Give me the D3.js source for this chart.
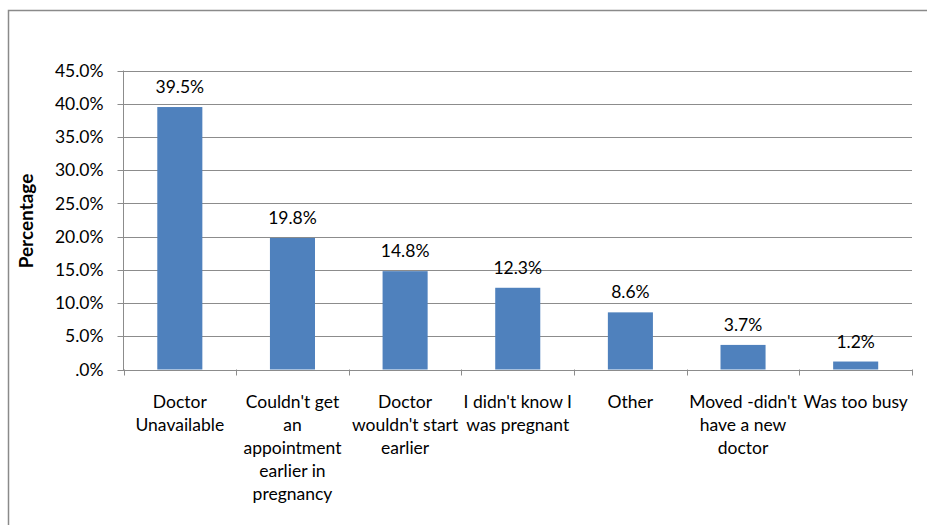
<!DOCTYPE html>
<html><head><meta charset="utf-8">
<script src="https://cdn.jsdelivr.net/npm/d3@7/dist/d3.min.js"></script>
<style>body{margin:0;background:#fff}svg{display:block}text{font-family:Lato,"Open Sans",sans-serif}</style>
</head><body><svg id="c" width="927" height="525"></svg>
<script>
const categories = ["Doctor Unavailable","Couldn't get an appointment earlier in pregnancy","Doctor wouldn't start earlier","I didn't know I was pregnant","Other","Moved -didn't have a new doctor","Was too busy"];
const categoryLines = [["Doctor","Unavailable"],["Couldn't get","an","appointment","earlier in","pregnancy"],["Doctor","wouldn't start","earlier"],["I didn't know I","was pregnant"],["Other"],["Moved -didn't","have a new","doctor"],["Was too busy"]];
const values = [39.5,19.8,14.8,12.3,8.6,3.7,1.2];
const yTicks = [0,5,10,15,20,25,30,35,40,45];
const yLabel = "Percentage";

const svg = d3.select("#c");
const L=123.5, R=912, T=70.5, B=369.5;
const FS=17.5;
svg.append("rect").attr("x",8.5).attr("y",10.5).attr("width",1000).attr("height",1000).attr("fill","none").attr("stroke","#8a8a8a").attr("stroke-width",1.5);

const x = d3.scaleBand().domain(categories).range([L,R]).paddingInner(0.6).paddingOuter(0.3);
const y = d3.scaleLinear().domain([0,45]).range([B,T]);
const grid="#8c8c8c";
const g=svg.append("g");
g.selectAll("line.grid").data(yTicks).join("line").attr("x1",L-6).attr("x2",R).attr("y1",d=>Math.round(y(d))+0.5).attr("y2",d=>Math.round(y(d))+0.5).attr("stroke",grid).attr("stroke-width",1);
g.append("line").attr("x1",L).attr("x2",L).attr("y1",T).attr("y2",B+0.5).attr("stroke",grid);
const bw = (R-L)/categories.length;
g.selectAll("line.ct").data(d3.range(categories.length+1)).join("line").attr("x1",i=>Math.round(L+i*bw)+0.5).attr("x2",i=>Math.round(L+i*bw)+0.5).attr("y1",B).attr("y2",B+6).attr("stroke",grid);
g.selectAll("text.yt").data(yTicks).join("text").attr("x",L-20).attr("y",d=>y(d)).attr("dy","0.35em").attr("text-anchor","end").attr("font-size",FS).attr("fill","#000").text(d=>d===0?".0%":d.toFixed(1)+"%");

g.selectAll("rect.bar").data(values).join("rect").attr("x",(d,i)=>x(categories[i])).attr("width",x.bandwidth()).attr("y",d=>y(d)).attr("height",d=>B-y(d)).attr("fill","#4F81BD");
g.selectAll("text.v").data(values).join("text").attr("x",(d,i)=>x(categories[i])+x.bandwidth()/2).attr("y",d=>y(d)-14).attr("text-anchor","middle").attr("font-size",FS).text(d=>d.toFixed(1)+"%");

categoryLines.forEach((lines,i)=>{
  const cx = x(categories[i])+x.bandwidth()/2;
  const t=g.append("text").attr("text-anchor","middle").attr("font-size",FS);
  lines.forEach((ln,j)=>t.append("tspan").attr("x",cx).attr("y",408+j*23).text(ln));
});
svg.append("text").attr("transform","translate(33,221) rotate(-90)").attr("text-anchor","middle").attr("font-size",19).attr("font-weight","bold").text(yLabel);
</script></body></html>
